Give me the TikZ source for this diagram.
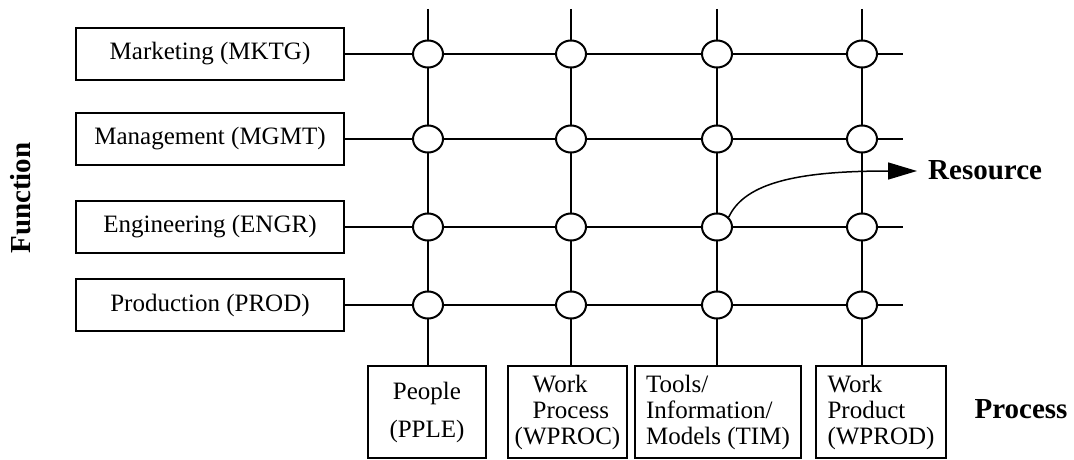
\documentclass[tikz,border=0pt]{standalone}
\usepackage{fontspec}
\setmainfont{Liberation Serif}
\usetikzlibrary{arrows.meta,shapes.geometric}
\begin{document}
\begin{tikzpicture}[x=1pt,y=-1pt,
  grid/.style={line width=2.7pt},
  funcbox/.style={draw,line width=1.6pt,fill=white,minimum width=268pt,
    minimum height=52pt,inner sep=0pt,font=\fontsize{25}{26}\selectfont},
  procbox/.style={draw,line width=1.6pt,fill=white,minimum height=92pt,
    inner sep=0pt,align=left,font=\fontsize{25}{26}\selectfont},
  joint/.style={draw,ellipse,line width=2pt,fill=white,minimum width=30pt,
    minimum height=27pt,inner sep=0pt},
  axislabel/.style={font=\bfseries\fontsize{29}{31}\selectfont,inner sep=0pt}]
\useasboundingbox (0,0) rectangle (1074,460);

% function boxes on the left
\node[funcbox] (mktg) at (210,54)  {Marketing (MKTG)};
\node[funcbox] (mgmt) at (210,139) {Management (MGMT)};
\node[funcbox] (engr) at (210,227) {Engineering (ENGR)};
\node[funcbox] (prod) at (210,305) {Production (PROD)};

% process boxes at the bottom
\node[procbox,minimum width=118pt,align=center] (pple) at (427,412)
  {People\\[12pt](PPLE)};
\node[procbox,minimum width=119pt] (wproc) at (567.5,412)
  {\hspace{18pt}Work\\\hspace{18pt}Process\\(WPROC)};
\node[procbox,minimum width=166pt] (tim) at (718,412)
  {Tools/\\Information/\\Models (TIM)};
\node[procbox,minimum width=130pt] (wprod) at (881,412)
  {Work\\Product\\(WPROD)};

% free ends of the grid lines
\coordinate (e1) at (903,54);
\coordinate (e2) at (903,139);
\coordinate (e3) at (903,227);
\coordinate (e4) at (903,305);
\coordinate (t1) at (428,9);
\coordinate (t2) at (571,9);
\coordinate (t3) at (717,9);
\coordinate (t4) at (862,9);

% rows
\draw[grid] (mktg.east) -- (e1);
\draw[grid] (mgmt.east) -- (e2);
\draw[grid] (engr.east) -- (e3);
\draw[grid] (prod.east) -- (e4);
% columns
\draw[grid] (t1) -- (t1 |- pple.north);
\draw[grid] (t2) -- (t2 |- wproc.north);
\draw[grid] (t3) -- (t3 |- tim.north);
\draw[grid] (t4) -- (t4 |- wprod.north);

% crossing points
\foreach \r/\y in {1/54,2/139,3/227,4/305}
  \foreach \c/\x in {1/428,2/571,3/717,4/862}
    \node[joint] (j\r\c) at (\x,\y) {};

% resource pointer
\coordinate (tip) at (917,171);
\node[axislabel,anchor=west] (res) at (928,170) {Resource};
\draw[line width=1.5pt,-{Triangle[length=29pt,width=17pt]}]
  (j33.40) .. controls (745,182) and (800,171) .. (tip);

% axis labels
\node[axislabel] (proclabel) at (1021,409) {Process};
\node[axislabel,rotate=90] (funclabel) at (21,198) {Function};
\end{tikzpicture}
\end{document}
